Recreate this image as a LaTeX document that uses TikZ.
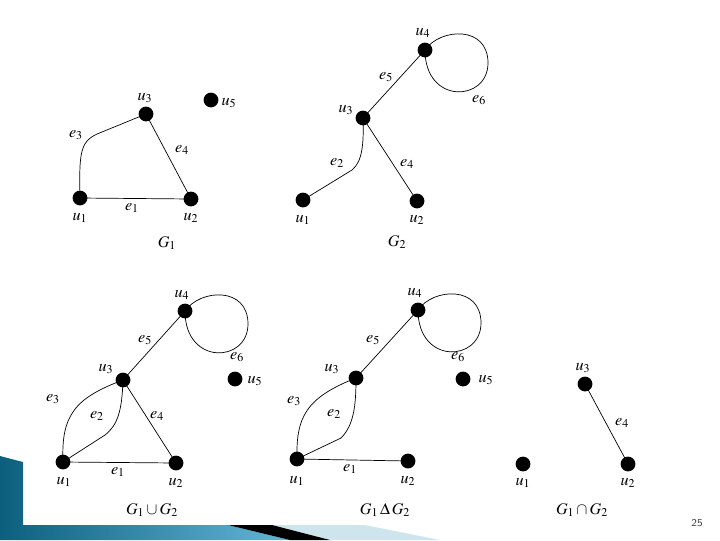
\documentclass[tikz,border=0pt]{standalone}
\usepackage{mathptmx}
\usepackage{tikz}
\definecolor{bardark}{RGB}{12,96,126}
\definecolor{barlight}{RGB}{100,182,216}
\definecolor{barpale}{RGB}{206,229,237}

\begin{document}
\begin{tikzpicture}[x=0.025cm, y=-0.025cm, line width=0.5pt,
    every node/.style={font=\fontsize{11.5}{13}\selectfont},
    dot/.style={circle, fill, inner sep=0pt, minimum size=0.37cm}]
    \useasboundingbox (0,0) rectangle (720,540);

    \shade[left color=bardark, right color=barlight] (0,456) -- (23,462) -- (23,525) -- (228,525) -- (290,540) -- (0,540) -- cycle;
    \fill[barpale] (272,525) -- (365,525) -- (440,540) -- (330,540) -- cycle;
    \fill[black] (228,525) -- (272,525) -- (330,540) -- (290,540) -- cycle;

    \coordinate (A1) at (80,198);
    \coordinate (A2) at (191,199);
    \coordinate (A3) at (146,114);
    \coordinate (A5) at (211,100);

    \coordinate (B1) at (303,200);
    \coordinate (B2) at (417,201);
    \coordinate (B3) at (363,118);
    \coordinate (B4) at (425,50);

    \coordinate (C1) at (63,462);
    \coordinate (C2) at (176,463);
    \coordinate (C3) at (123,380);
    \coordinate (C4) at (185,311);
    \coordinate (C5) at (235,379);

    \coordinate (D1) at (297,459);
    \coordinate (D2) at (408,461);
    \coordinate (D3) at (356,378);
    \coordinate (D4) at (418,310);
    \coordinate (D5) at (463,379);

    \coordinate (E1) at (523,464);
    \coordinate (E2) at (628,464);
    \coordinate (E3) at (585,384);

    \draw (A1) -- (A2) -- (A3);
    \draw (A1) .. controls (79,150) and (80,140) .. (102,132) -- (A3);

    \draw (B4) -- (B3) -- (B2);
    \draw (B3) .. controls (364,145) and (362,162) .. (352,170) -- (B1);

    \draw (C1) -- (C2) -- (C3) -- (C4);
    \draw (C1) .. controls (61,415) and (75,398) .. (C3);
    \draw (C3) .. controls (122,410) and (118,425) .. (105,435) -- (C1);

    \draw (D1) -- (D2);
    \draw (D3) -- (D4);
    \draw (D1) .. controls (296,418) and (305,398) .. (D3);
    \draw (D3) .. controls (356,405) and (354,425) .. (341,438) -- (D1);

    \draw (E3) -- (E2);

    \foreach \n in {B4, C4, D4}
    \draw[shift={(\n)}] (0,0) .. controls (15,-22) and (63,-25) .. (63,13) .. controls (63,52) and (0,55) .. (0,0);

    \foreach \n in {A1, A2, A3, A5, B1, B2, B3, B4, C1, C2, C3, C4, C5, D1, D2, D3, D4, D5, E1, E2, E3}
    \node[dot] (d\n) at (\n) {};

    \node (uA1) at (80,218) {$u_1$};
    \node (uA2) at (191,218) {$u_2$};
    \node (uA3) at (145,98) {$u_3$};
    \node (uA5) at (229,103) {$u_5$};
    \node (eA3) at (76,135) {$e_3$};
    \node (eA4) at (182,150) {$e_4$};
    \node (eA1) at (132,208) {$e_1$};
    \node (gA) at (167,243) {$G_1$};

    \node (uB1) at (303,220) {$u_1$};
    \node (uB2) at (417,220) {$u_2$};
    \node (uB3) at (346,110) {$u_3$};
    \node (uB4) at (423,33) {$u_4$};
    \node (eB2) at (337,163) {$e_2$};
    \node (eB4) at (407,164) {$e_4$};
    \node (eB5) at (386,77) {$e_5$};
    \node (eB6) at (479,100) {$e_6$};
    \node (gB) at (397,242) {$G_2$};

    \node (uC1) at (64,482) {$u_1$};
    \node (uC2) at (176,483) {$u_2$};
    \node (uC3) at (106,369) {$u_3$};
    \node (uC4) at (182,295) {$u_4$};
    \node (uC5) at (255,381) {$u_5$};
    \node (eC1) at (118,472) {$e_1$};
    \node (eC2) at (97,416) {$e_2$};
    \node (eC3) at (53,399) {$e_3$};
    \node (eC4) at (157,416) {$e_4$};
    \node (eC5) at (145,340) {$e_5$};
    \node (eC6) at (237,357) {$e_6$};
    \node (gC) at (152,510) {$G_1\cup G_2$};

    \node (uD1) at (297,481) {$u_1$};
    \node (uD2) at (408,481) {$u_2$};
    \node (uD3) at (332,369) {$u_3$};
    \node (uD4) at (415,293) {$u_4$};
    \node (uD5) at (486,380) {$u_5$};
    \node (eD1) at (350,469) {$e_1$};
    \node (eD2) at (334,414) {$e_2$};
    \node (eD3) at (294,401) {$e_3$};
    \node (eD5) at (373,340) {$e_5$};
    \node (eD6) at (458,357) {$e_6$};
    \node (gD) at (385,510) {$G_1\,\Delta\,G_2$};

    \node (uE1) at (523,483) {$u_1$};
    \node (uE2) at (628,483) {$u_2$};
    \node (uE3) at (583,368) {$u_3$};
    \node (eE4) at (622,423) {$e_4$};
    \node (gE) at (582,510) {$G_1\cap G_2$};

    \node[font=\sffamily\fontsize{7.5}{9}\selectfont, text=black!75] (page) at (697,523) {25};
\end{tikzpicture}
\end{document}
